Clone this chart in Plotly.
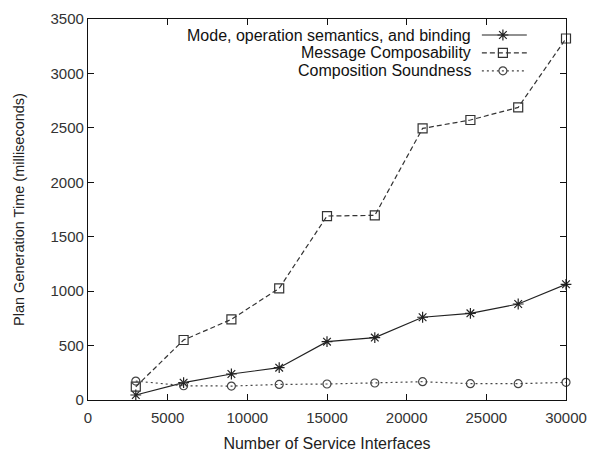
import plotly.graph_objects as go

interfaces = [3000, 6000, 9000, 12000, 15000, 18000, 21000, 24000, 27000, 30000]
mode_binding = [46, 159, 239, 297, 536, 573, 760, 796, 882, 1063]
message_comp = [122, 551, 741, 1026, 1690, 1696, 2495, 2572, 2688, 3321]
comp_soundness = [174, 131, 128, 143, 147, 156, 168, 150, 150, 162]
series_names = ["Mode, operation semantics, and binding",
                "Message Composability",
                "Composition Soundness"]
x_ticks = [0, 5000, 10000, 15000, 20000, 25000, 30000]
x_tick_labels = ["0", "5000", "10000", "15000", "20000", "25000", "30000"]
y_ticks = [0, 500, 1000, 1500, 2000, 2500, 3000, 3500]
y_tick_labels = ["0", "500", "1000", "1500", "2000", "2500", "3000", "3500"]

styles = [
    dict(dash="solid", color="#222", symbol="asterisk-open", size=9),
    dict(dash="5px,3px", color="#333", symbol="square-open", size=9),
    dict(dash="2px,3px", color="#444", symbol="circle-open", size=8),
]
data = [mode_binding, message_comp, comp_soundness]

fig = go.Figure()
for name, ys, st in zip(series_names, data, styles):
    fig.add_trace(go.Scatter(
        x=interfaces, y=ys, mode="lines+markers", name=name,
        line=dict(color=st["color"], width=1.2, dash=st["dash"]),
        marker=dict(symbol=st["symbol"], size=st["size"], color=st["color"],
                    line=dict(width=1.2, color=st["color"])),
        showlegend=False, cliponaxis=False))

# gnuplot-style legend: text on the left, sample on the right
rows = [0.958, 0.911, 0.864]
for name, st, ry in zip(series_names, styles, rows):
    fig.add_annotation(xref="paper", yref="paper", x=0.805, y=ry,
                       xanchor="right", yanchor="middle", showarrow=False,
                       text=name, font=dict(family="Liberation Sans, Arial", size=16, color="#111"))
    fig.add_trace(go.Scatter(
        x=[0.824, 0.918], y=[ry, ry], xaxis="x2", yaxis="y2", mode="lines",
        line=dict(color=st["color"], width=1.2, dash=st["dash"]),
        showlegend=False, hoverinfo="skip"))
    fig.add_trace(go.Scatter(
        x=[0.868], y=[ry], xaxis="x2", yaxis="y2", mode="markers",
        marker=dict(symbol=st["symbol"], size=st["size"], color=st["color"],
                    line=dict(width=1.2, color=st["color"])),
        showlegend=False, hoverinfo="skip"))

axis_font = dict(family="Liberation Sans, Arial", size=15, color="#333")
fig.update_layout(
    width=587, height=445,
    margin=dict(l=80, r=29, t=11, b=53),
    paper_bgcolor="white", plot_bgcolor="white",
    font=dict(family="Liberation Sans, Arial", color="#222"),
    xaxis=dict(range=[0, 30000], tickvals=x_ticks, ticktext=x_tick_labels,
               ticks="inside", ticklen=6, ticklabelstandoff=4, automargin=False,
               showgrid=False, zeroline=False, showline=True, linecolor="#111",
               linewidth=1.2, mirror="ticks", tickcolor="#111",
               tickfont=axis_font,
               title=dict(text="Number of Service Interfaces",
                          font=dict(family="Liberation Sans, Arial", size=16, color="#222"),
                          standoff=12)),
    yaxis=dict(range=[0, 3500], tickvals=y_ticks, ticktext=y_tick_labels,
               ticks="inside", ticklen=6, automargin=False,
               showgrid=False, zeroline=False, showline=True, linecolor="#111",
               linewidth=1.2, mirror="ticks", tickcolor="#111",
               tickfont=axis_font,
               title=dict(text="Plan Generation Time (milliseconds)",
                          font=dict(family="Liberation Sans, Arial", size=14.5, color="#222"),
                          standoff=22)),
    xaxis2=dict(domain=[0, 1], range=[0, 1], overlaying="x", visible=False, anchor="y2"),
    yaxis2=dict(domain=[0, 1], range=[0, 1], overlaying="y", visible=False, anchor="x2"),
)

fig.write_html("out.html")
